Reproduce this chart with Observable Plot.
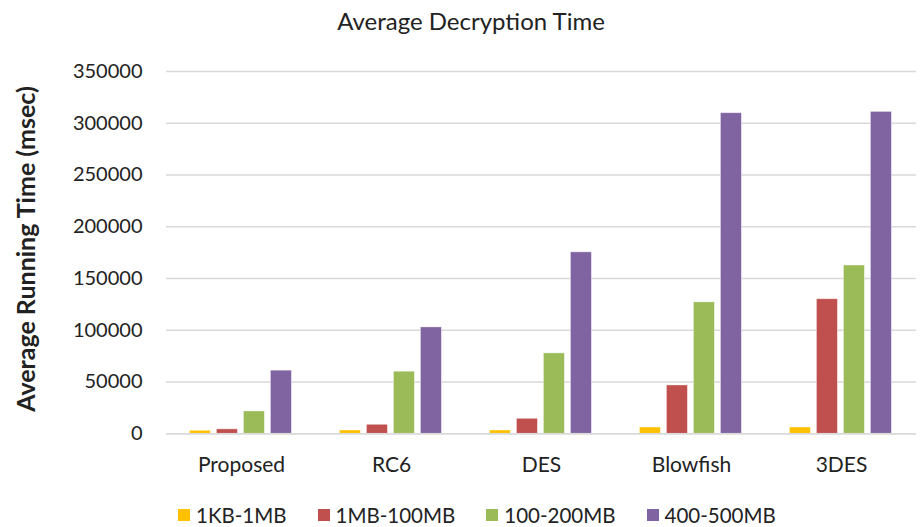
<!DOCTYPE html>
<html>
<head>
<meta charset="utf-8">
<script src="https://cdn.jsdelivr.net/npm/d3@7"></script>
<script src="https://cdn.jsdelivr.net/npm/@observablehq/plot@0.6"></script>
<style>
  html, body { margin: 0; padding: 0; background: #fff; }
  #wrap { position: relative; width: 920px; height: 527px; overflow: hidden; font-family: Lato, "Open Sans", sans-serif; color: #222; }
  #chart { position: absolute; left: 0; top: 0; }
  #title { position: absolute; left: 0; top: 6px; width: 942px; text-align: center; font-size: 24px; }
  #ylabel { position: absolute; left: 25px; top: 249px; transform: translate(-50%, -50%) rotate(-90deg); white-space: nowrap; font-size: 25px; font-weight: bold; }
  #legend { position: absolute; left: 178px; top: 503px; display: flex; font-size: 20.5px; white-space: nowrap; }
  .item { display: flex; align-items: center; margin-right: 31px; }
  .sw { width: 12px; height: 12px; margin-right: 6px; }
</style>
</head>
<body>
<div id="wrap">
  <div id="chart"></div>
  <div id="title">Average Decryption Time</div>
  <div id="ylabel">Average Running Time (msec)</div>
  <div id="legend"></div>
</div>
<script>
const categories = ["Proposed", "RC6", "DES", "Blowfish", "3DES"];
const series = ["1KB-1MB", "1MB-100MB", "100-200MB", "400-500MB"];
const colors = ["#FFC000", "#C0504D", "#9BBB59", "#8064A2"];
const v1KB_1MB = [2900, 3200, 3200, 6100, 6100];
const v1MB_100MB = [4300, 8700, 14500, 46700, 130000];
const v100_200MB = [21600, 60000, 77700, 127000, 162600];
const v400_500MB = [61000, 102800, 175300, 309700, 311000];
const yTicks = [0, 50000, 100000, 150000, 200000, 250000, 300000, 350000];

const seriesValues = [v1KB_1MB, v1MB_100MB, v100_200MB, v400_500MB];
const data = categories.flatMap((c, i) =>
  series.map((s, j) => ({ cat: c, series: s, value: seriesValues[j][i] }))
);

const chart = Plot.plot({
  width: 920,
  height: 500,
  marginTop: 71,
  marginBottom: 66.7,
  marginLeft: 164.6,
  marginRight: 2,
  style: { fontFamily: "Lato, 'Open Sans', sans-serif", fontSize: "20px", color: "#222", background: "transparent" },
  fx: { domain: categories, padding: 0, label: null, axis: null },
  x: { domain: series, paddingInner: 0.21, paddingOuter: 0.865, axis: null },
  y: { domain: [0, 350000], label: null, axis: null },
  color: { domain: series, range: colors },
  marks: [
    Plot.gridY(yTicks, { stroke: "#d9d9d9", strokeOpacity: 1, strokeWidth: 1.5 }),
    Plot.axisY(yTicks, { tickFormat: d => String(d), tickSize: 0, tickPadding: 24, label: null, fontSize: 20 }),
    Plot.axisFx({ anchor: "bottom", tickSize: 0, tickPadding: 23, label: null, fontSize: 21 }),
    Plot.barY(data, { fx: "cat", x: "series", y: "value", fill: "series", stroke: "#fff", strokeOpacity: 0.5, strokeWidth: 0.8 }),
    Plot.ruleY([0], { stroke: "#d9d9d9", strokeWidth: 1.5 })
  ]
});
document.getElementById("chart").appendChild(chart);

const legend = document.getElementById("legend");
series.forEach((s, i) => {
  const it = document.createElement("div");
  it.className = "item";
  const sw = document.createElement("div");
  sw.className = "sw";
  sw.style.background = colors[i];
  const t = document.createElement("span");
  t.textContent = s;
  it.appendChild(sw);
  it.appendChild(t);
  legend.appendChild(it);
});
</script>
</body>
</html>
